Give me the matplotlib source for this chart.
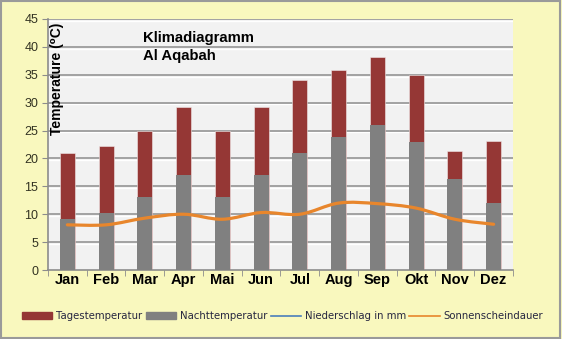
import matplotlib
matplotlib.use("Agg")
import matplotlib.pyplot as plt
from matplotlib.path import Path
from matplotlib.patches import PathPatch, Rectangle
from matplotlib.lines import Line2D
from matplotlib.transforms import offset_copy
import numpy as np

monate = ["Jan", "Feb", "Mar", "Apr", "Mai", "Jun", "Jul", "Aug", "Sep", "Okt", "Nov", "Dez"]
tages = [20.9, 22.2, 25.0, 29.2, 25.0, 29.2, 34.0, 35.9, 38.1, 35.0, 21.3, 23.1]
nacht = [9.2, 10.2, 13.0, 17.1, 13.1, 17.1, 21.0, 23.8, 26.0, 22.9, 16.3, 12.1]
sonne = [8.1, 8.1, 9.3, 10.0, 9.1, 10.3, 10.0, 12.0, 11.9, 11.1, 9.1, 8.2]
y_ticks = [0, 5, 10, 15, 20, 25, 30, 35, 40, 45]

ROT = "#953735"
GRAU = "#808080"
ORANGE = "#E8862C"
BLAU = "#4A7EBB"

fig = plt.figure(figsize=(5.62, 3.39), dpi=100)
fig.patch.set_facecolor("#F9F8BE")
fig.patches.append(Rectangle((0.002, 0.003), 0.995, 0.993, transform=fig.transFigure,
                             fill=False, edgecolor="#9A9A9A", linewidth=1.5))

ax = fig.add_axes([0.0854, 0.2035, 0.8274, 0.7405])
ax.set_facecolor("#F2F2F2")

# Gitterlinien: grau mit weissem Schatten darunter
schatten = offset_copy(ax.transData, fig=fig, x=0, y=-1.3, units="points")
for yt in y_ticks[1:]:
    ax.plot([-0.5, 11.5], [yt, yt], color="white", linewidth=1.0, transform=schatten, zorder=0.5)
    ax.axhline(yt, color="#9C9C9C", linewidth=1.3, zorder=0.6)

x = np.arange(len(monate))
ax.bar(x, tages, width=0.39, color=ROT, edgecolor="#F0E8E8", linewidth=0.4, zorder=2)
ax.bar(x, nacht, width=0.39, color=GRAU, zorder=3)

# geglaettete Linie (Bezier durch die Monatswerte)
pts = list(zip(x, sonne))
verts = [pts[0]]
codes = [Path.MOVETO]
for i in range(len(pts) - 1):
    p0 = pts[i - 1] if i > 0 else pts[i]
    p1 = pts[i]
    p2 = pts[i + 1]
    p3 = pts[i + 2] if i + 2 < len(pts) else pts[i + 1]
    c1 = (p1[0] + (p2[0] - p0[0]) / 6, p1[1] + (p2[1] - p0[1]) / 6)
    c2 = (p2[0] - (p3[0] - p1[0]) / 6, p2[1] - (p3[1] - p1[1]) / 6)
    verts += [c1, c2, p2]
    codes += [Path.CURVE4] * 3
ax.add_patch(PathPatch(Path(verts, codes), fill=False, edgecolor=ORANGE,
                       linewidth=2.3, capstyle="round", zorder=4))

ax.set_xlim(-0.5, 11.5)
ax.set_ylim(0, 45)
ax.set_yticks(y_ticks)
ax.set_xticks(x)
ax.set_xticklabels(monate, fontsize=10.5, fontweight="bold", family="Liberation Sans")
ax.set_xticks(np.arange(-0.5, 12, 1), minor=True)
ax.tick_params(axis="x", which="major", length=0, pad=2)
ax.tick_params(axis="x", which="minor", length=4, color="#8C8C8C", direction="out")
ax.tick_params(axis="y", length=4, color="#8C8C8C", labelsize=9, labelcolor="#333322", pad=3)
for lab in ax.get_yticklabels():
    lab.set_family("Liberation Sans")

for s in ["top", "right"]:
    ax.spines[s].set_visible(False)
for s in ["left", "bottom"]:
    ax.spines[s].set_color("#8C8C8C")
    ax.spines[s].set_linewidth(1.2)

ax.text(0.019, 0.538, "Temperature (\u2070C)", rotation=90, transform=ax.transAxes,
        ha="center", va="bottom", fontsize=10, fontweight="bold",
        family=["Liberation Sans", "DejaVu Sans"])
ax.text(0.204, 0.952, "Klimadiagramm\nAl Aqabah", transform=ax.transAxes,
        ha="left", va="top", fontsize=10.7, fontweight="bold",
        family="Liberation Sans", linespacing=1.4)

handles = [
    Rectangle((0, 0), 1, 1, color=ROT),
    Rectangle((0, 0), 1, 1, color=GRAU),
    Line2D([], [], color=BLAU, linewidth=1.2),
    Line2D([], [], color=ORANGE, linewidth=1.2),
]
labels = ["Tagestemperatur", "Nachttemperatur", "Niederschlag in mm", "Sonnenscheindauer"]
leg = fig.legend(handles, labels, loc="center", bbox_to_anchor=(0.503, 0.068), ncol=4,
                 frameon=False, fontsize=7.3, handlelength=3.0, handleheight=0.6,
                 handletextpad=0.4, columnspacing=0.3, labelcolor="#262640")

fig.savefig("out.png", dpi=100, facecolor=fig.get_facecolor())
